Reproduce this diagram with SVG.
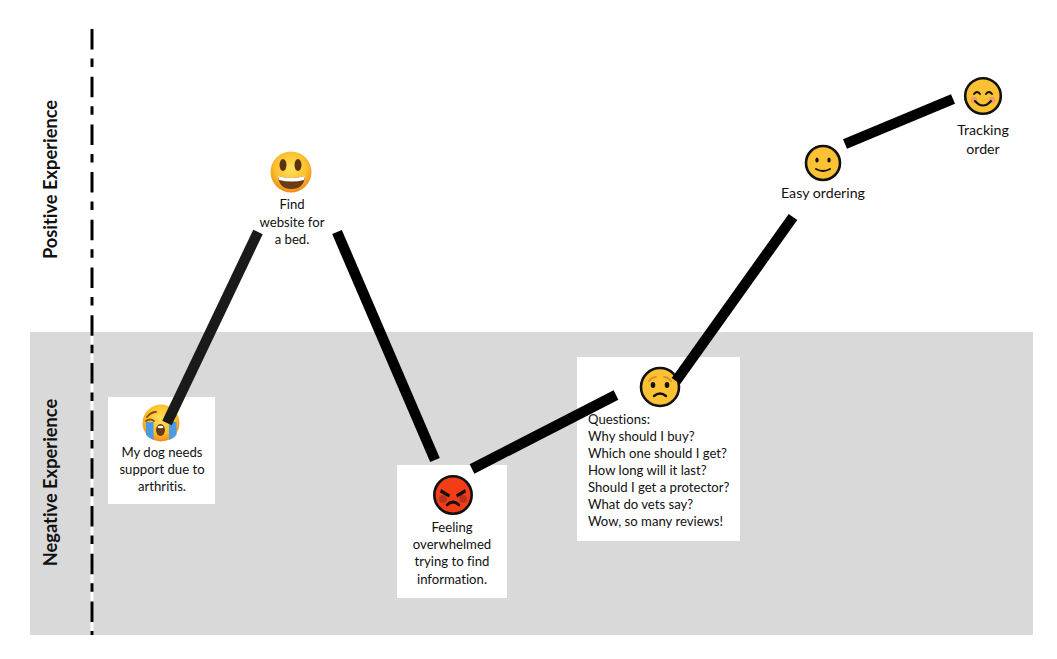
<svg xmlns="http://www.w3.org/2000/svg" width="1057" height="659" viewBox="0 0 1057 659">
<style>
.t{font-family:Lato,"Liberation Sans",sans-serif;font-size:13.15px;fill:#111;text-anchor:middle;font-variant-ligatures:none}
.big{font-size:14.2px}
.q{text-anchor:start}
.a{font-family:Lato,"Liberation Sans",sans-serif;font-size:18.3px;font-weight:bold;fill:#111;text-anchor:middle;font-variant-ligatures:none}
.c line{stroke:#000;stroke-width:10.5}
.box{fill:#fff}
.flat{fill:#fcc233;stroke:#111;stroke-width:2.6}
.ink{fill:none;stroke:#111;stroke-width:2;stroke-linecap:round}
</style>
<defs>
<radialGradient id="gold" cx="50%" cy="40%" r="60%"><stop offset="0" stop-color="#ffe25c"/><stop offset="0.65" stop-color="#fbc02c"/><stop offset="1" stop-color="#f08a1c"/></radialGradient>
</defs>
<rect width="1057" height="659" fill="#fff"/>
<rect id="negative-band" x="30" y="332" width="1003" height="303" fill="#d9d9d9"/>
<g id="axis">
<line x1="92" y1="332" x2="92" y2="635" stroke="#fff" stroke-width="3"/>
<line x1="92" y1="29" x2="92" y2="635" stroke="#000" stroke-width="3" stroke-dasharray="20.5 9 8.5 9.7"/>
</g>
<text id="label-positive" class="a" transform="translate(57 179.500) rotate(-90)">Positive Experience</text>
<text id="label-negative" class="a" transform="translate(57 482.500) rotate(-90)">Negative Experience</text>

<g id="node-dog">
<rect class="box" x="108" y="397" width="107" height="107"/>
<circle cx="161" cy="423" r="18.500" fill="url(#gold)"/>
<path d="M146 422h7.500v18q-4-1-7.500-5zM169 422h7.500v13q-3.500 4-7.500 5z" fill="#4a9be0"/>
<ellipse cx="160.500" cy="430" rx="4.500" ry="6" fill="#6b3a12"/>
<ellipse cx="160.500" cy="427" rx="3" ry="1.300" fill="#fff"/>
<path d="M147 417q4-5 9-5M146 421q4-3 8 0" fill="none" stroke="#8a4a12" stroke-width="1.800" stroke-linecap="round"/>
<text class="t" x="162" y="457">My dog needs</text>
<text class="t" x="162" y="474">support due to</text>
<text class="t" x="162" y="491">arthritis.</text>
</g>
<g id="node-website">
<circle cx="291" cy="172" r="20.500" fill="url(#gold)"/>
<ellipse cx="283" cy="165" rx="3.500" ry="6" fill="#5a3210"/>
<ellipse cx="298" cy="165" rx="3.500" ry="6" fill="#5a3210"/>
<path d="M278 176q13 4 27 0q-1 13-13.500 13T278 176z" fill="#6b3a12"/>
<path d="M278 176q13 4 27 0l-1 4q-12 3-25 0z" fill="#fff"/>
<text class="t" x="292" y="209">Find</text>
<text class="t" x="292" y="227">website for</text>
<text class="t" x="292" y="244">a bed.</text>
</g>
<g id="node-overwhelmed">
<rect class="box" x="397" y="465" width="110" height="133"/>
<circle cx="453" cy="495" r="18.700" fill="#f33d17" stroke="#111" stroke-width="2.600"/>
<circle cx="443" cy="499" r="4" fill="#b8321f"/><circle cx="463" cy="499" r="4" fill="#b8321f"/>
<path d="M441 489l9 5.500-1 3-9-5zM465 489l-9 5.500 1 3 9-5z" fill="#111"/>
<path d="M447 505q6-6 12 0" fill="none" stroke="#111" stroke-width="2.600" stroke-linecap="round"/>
<text class="t" x="452" y="532">Feeling</text>
<text class="t" x="452" y="549">overwhelmed</text>
<text class="t" x="452" y="566">trying to find</text>
<text class="t" x="452" y="584">information.</text>
</g>
<g id="node-questions">
<rect class="box" x="577" y="357" width="163" height="184"/>
<circle cx="660" cy="387" r="19" class="flat"/>
<path d="M649 381q3-4 7-4M671 381q-3-4-7-4" fill="none" stroke="#d8902a" stroke-width="1.800" stroke-linecap="round"/>
<ellipse cx="653" cy="385" rx="2.300" ry="3" fill="#111"/><ellipse cx="667" cy="385" rx="2.300" ry="3" fill="#111"/>
<path d="M654 396q6-5 12 0" fill="none" stroke="#111" stroke-width="2.400" stroke-linecap="round"/>
<g class="qt">
<text class="t q" x="588" y="424">Questions:</text>
<text class="t q" x="588" y="441">Why should I buy?</text>
<text class="t q" x="588" y="458">Which one should I get?</text>
<text class="t q" x="588" y="475">How long will it last?</text>
<text class="t q" x="588" y="492">Should I get a protector?</text>
<text class="t q" x="588" y="509">What do vets say?</text>
<text class="t q" x="588" y="526">Wow, so many reviews!</text>
</g>
</g>
<g id="node-easy">
<circle cx="823" cy="163" r="17" class="flat"/>
<ellipse cx="817" cy="160" rx="1.700" ry="2.600" fill="#111"/><ellipse cx="829" cy="160" rx="1.700" ry="2.600" fill="#111"/>
<path class="ink" d="M816 169q7 4 14 0"/>
<text class="t big" x="823" y="198">Easy ordering</text>
</g>
<g id="node-tracking">
<circle cx="983" cy="96" r="17.800" class="flat"/>
<circle cx="974" cy="100" r="3.200" fill="#f09a6a"/><circle cx="992" cy="100" r="3.200" fill="#f09a6a"/>
<path class="ink" d="M974 94q3-4 6 0M986 94q3-4 6 0"/>
<path class="ink" d="M975 101q8 9 16 0"/>
<text class="t big" x="983" y="135">Tracking</text>
<text class="t big" x="983" y="154">order</text>
</g>
<g id="connectors" class="c">
<line x1="258" y1="232" x2="167" y2="423" style="stroke:#1a1a1a"/>
<line x1="337" y1="232" x2="435" y2="460"/>
<line x1="472" y1="469" x2="616" y2="395"/>
<line x1="676" y1="381" x2="793" y2="217"/>
<line x1="845" y1="144" x2="953" y2="99"/>
</g>
</svg>
